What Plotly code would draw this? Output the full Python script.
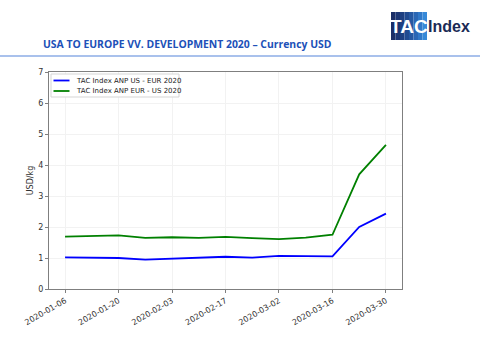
import plotly.graph_objects as go
import pandas as pd

dates = ["2020-01-06", "2020-01-13", "2020-01-20", "2020-01-27", "2020-02-03",
         "2020-02-10", "2020-02-17", "2020-02-24", "2020-03-02", "2020-03-09",
         "2020-03-16", "2020-03-23", "2020-03-30"]
us_eur = [1.02, 1.00, 1.00, 0.95, 0.98, 1.00, 1.04, 1.01, 1.07, 1.06, 1.05, 2.00, 2.43]
eur_us = [1.69, 1.72, 1.73, 1.65, 1.67, 1.65, 1.68, 1.64, 1.61, 1.66, 1.75, 3.70, 4.65]
tick_labels = ["2020-01-06", "2020-01-20", "2020-02-03", "2020-02-17",
               "2020-03-02", "2020-03-16", "2020-03-30"]
series_names = ["TAC Index ANP US - EUR 2020", "TAC Index ANP EUR - US 2020"]
series_colors = ["#0000ff", "#008000"]
title_text = "USA TO EUROPE VV. DEVELOPMENT 2020 – Currency USD"

# plot area in pixels
L, R, T, B = 49, 402, 72, 289
PW, PH = R - L, B - T


def px(x):
    return (x - L) / PW


def py(y):
    return (B - y) / PH


d0 = pd.Timestamp(dates[0]) - pd.Timedelta(days=4.2)
d1 = pd.Timestamp(dates[-1]) + pd.Timedelta(days=4.2)

fig = go.Figure()
for name, vals, col in zip(series_names, [us_eur, eur_us], series_colors):
    fig.add_trace(go.Scatter(x=dates, y=vals, mode="lines", name=name,
                             line=dict(color=col, width=1.8), showlegend=False))

axis_common = dict(showline=True, linecolor="#7f7f7f", linewidth=1.2, mirror=True,
                   ticks="outside", ticklen=3, tickcolor="#7f7f7f",
                   showgrid=True, gridcolor="#f2f2f2", gridwidth=1, zeroline=False,
                   tickfont=dict(family="DejaVu Sans", size=8, color="#333333"))

fig.update_xaxes(range=[d0, d1], tickvals=tick_labels, ticktext=tick_labels,
                 tickangle=-30, **axis_common)
fig.update_yaxes(range=[0, 7], dtick=1,
                 title=dict(text="USD/kg", font=dict(family="DejaVu Sans", size=8, color="#333333"), standoff=3),
                 **axis_common)

fig.update_layout(
    width=480, height=353,
    margin=dict(l=L, r=480 - R, t=T, b=353 - B),
    paper_bgcolor="white", plot_bgcolor="white",
    showlegend=False,
)

# legend (drawn manually to match the compact matplotlib legend)
fig.add_shape(type="rect", xref="paper", yref="paper",
              x0=px(51), x1=px(179), y0=py(97), y1=py(74),
              line=dict(color="#d5d5d5", width=1), fillcolor="white", layer="above")
for i, (name, col) in enumerate(zip(series_names, series_colors)):
    yy = 80.5 + i * 10.5
    fig.add_shape(type="line", xref="paper", yref="paper",
                  x0=px(53.5), x1=px(69.5), y0=py(yy), y1=py(yy),
                  line=dict(color=col, width=1.8), layer="above")
    fig.add_annotation(text=name, xref="paper", yref="paper", x=px(74), y=py(yy),
                       xanchor="left", yanchor="middle", showarrow=False,
                       font=dict(family="DejaVu Sans", size=7, color="#222222"))

# header line
fig.add_shape(type="line", xref="paper", yref="paper", x0=-0.3, x1=1.3,
              y0=py(56), y1=py(56), line=dict(color="#a9c1ec", width=2))

# title
fig.add_annotation(text="<b>" + title_text + "</b>", xref="paper", yref="paper",
                   x=px(41), y=py(44), xanchor="left", yanchor="middle",
                   showarrow=False,
                   font=dict(family="Open Sans", size=10.4, color="#2050b8"))

# logo box with gradient approximation
bx0, bx1, by0, by1 = 391, 427, 12, 40
cols = ["#1b2e66", "#1c3674", "#1e4082", "#214b91", "#2558a2", "#2a67b5", "#3078c8", "#3789d8"]
n = len(cols)
for i in range(n):
    xa = bx0 + (bx1 - bx0) * i / n
    xb = bx0 + (bx1 - bx0) * (i + 1) / n
    fig.add_shape(type="rect", xref="paper", yref="paper",
                  x0=px(xa), x1=px(xb), y0=py(by1), y1=py(by0),
                  line=dict(width=0), fillcolor=cols[i], layer="above")
fig.add_annotation(text="<b>TAC</b>", xref="paper", yref="paper",
                   x=px((bx0 + bx1) / 2), y=py(27),
                   xanchor="center", yanchor="middle", showarrow=False,
                   font=dict(family="Liberation Sans Narrow, Liberation Sans", size=19, color="white"))
fig.add_annotation(text="<b>Index</b>", xref="paper", yref="paper",
                   x=px(426), y=py(27),
                   xanchor="left", yanchor="middle", showarrow=False,
                   font=dict(family="Liberation Sans Narrow, Liberation Sans", size=16, color="#1b2a55"))

fig.write_html("out.html")
